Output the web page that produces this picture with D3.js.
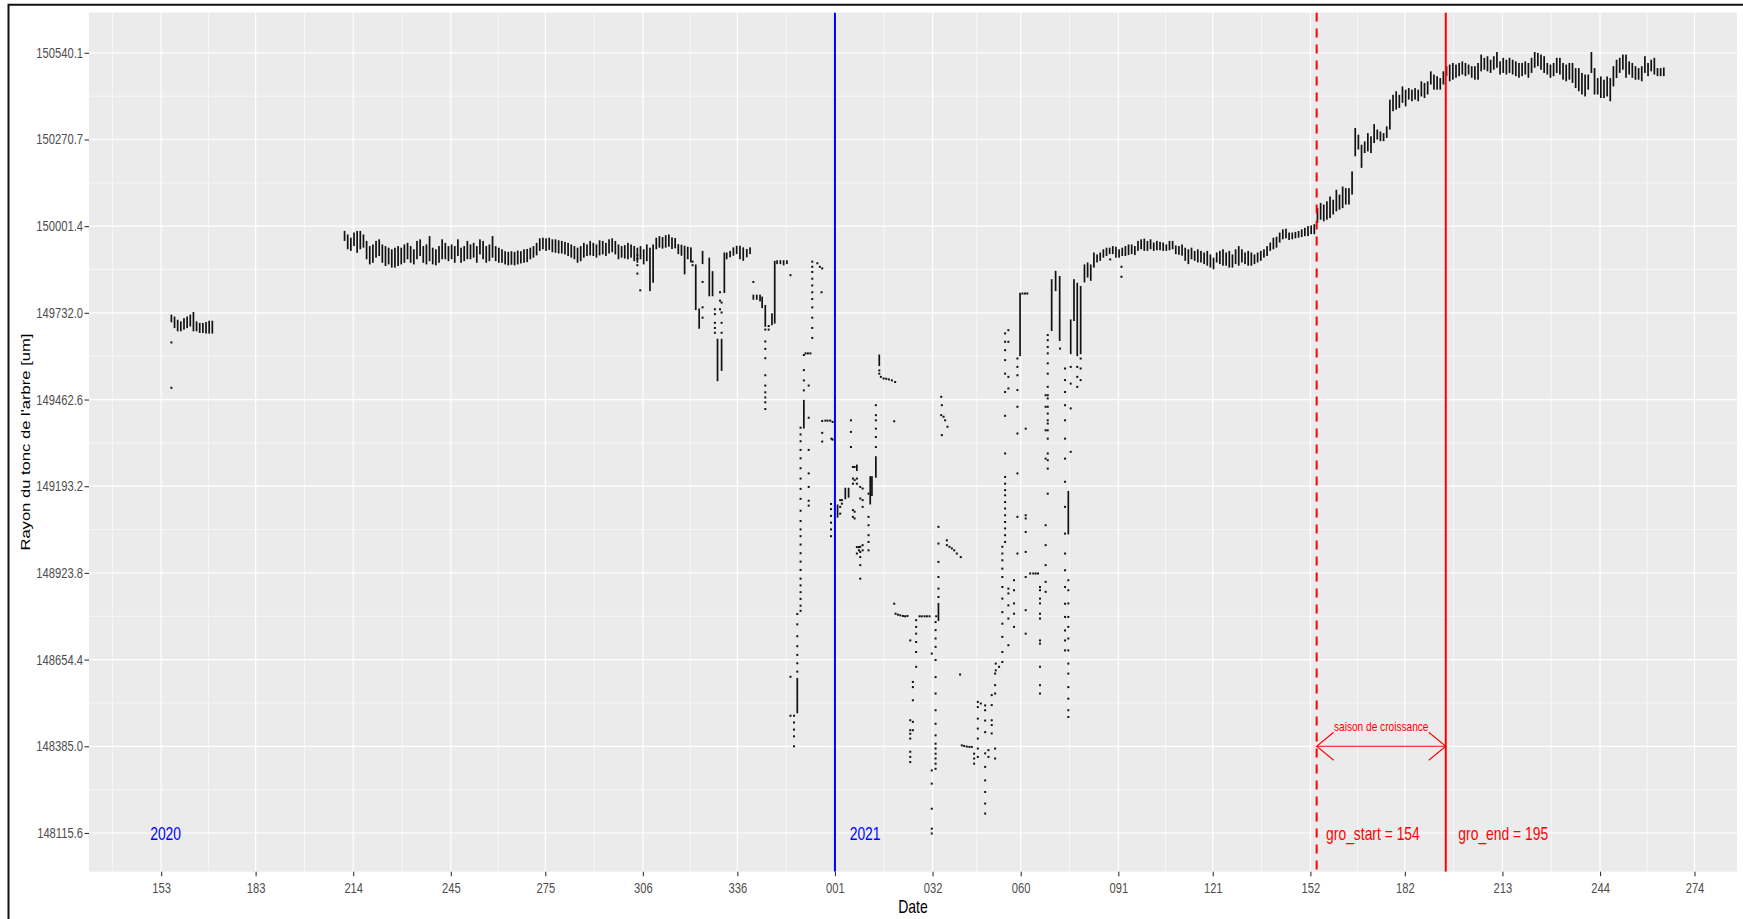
<!DOCTYPE html>
<html>
<head>
<meta charset="utf-8">
<script src="https://cdn.jsdelivr.net/npm/d3@7"></script>
<style>
  html, body { margin: 0; padding: 0; background: #ffffff; }
  svg { display: block; font-family: "Liberation Sans", Arial, Helvetica, sans-serif; }
</style>
</head>
<body>
<svg id="chart" width="1743" height="919"></svg>
<script>
// Trunk radius (µm) from a point dendrometer, summer 2020 to autumn 2021.

// y-axis breaks
const yTickValues = [148115.6, 148385.0, 148654.4, 148923.8, 149193.2, 149462.6, 149732.0, 150001.4, 150270.7, 150540.1];
const yTickLabels = ["148115.6", "148385.0", "148654.4", "148923.8", "149193.2", "149462.6", "149732.0", "150001.4", "150270.7", "150540.1"];

// June 2020: daily minimum / maximum, one value per day from juneStart
const juneStart = "2020-06-04";
const juneLow  = [149705,149687,149677,149677,149682,149687,149692,149677,149677,149672,149672,149670,149670,149670];
const juneHigh = [149724,149718,149708,149703,149713,149718,149724,149732,149703,149698,149698,149701,149705,149705];

// Late summer / autumn 2020: daily minimum / maximum from autumnStart
const autumnStart = "2020-07-29";
const autumnLow = [149958,149932,149927,149942,149921,149932,149937,149901,149885,149890,
  149906,149911,149890,149880,149885,149875,149875,149880,149885,149890,
  149901,149890,149885,149901,149911,149890,149885,149895,149885,149882,
  149890,149901,149901,149895,149901,149890,149911,149890,149895,149901,
  149901,149906,149890,149916,149901,149890,149895,149906,149895,149890,
  149890,149885,149882,149884,149882,149885,149888,149890,149892,149901,
  149906,149913,149927,149932,149927,149930,149923,149921,149919,149919,
  149916,149911,149906,149901,149890,149895,149906,149911,149913,149911,
  149906,149913,149916,149911,149919,149923,149916,149901,149906,149903,
  149901,149906,149895,149890,149901,149885,149895,149802,149828,149932,
  149937,149934,149937,149940,149933,149935,149917,149912,149854,149901,
  149891];
const autumnHigh = [149984,149973,149963,149979,149984,149984,149973,149953,149937,149942,
  149953,149958,149942,149937,149932,149927,149932,149937,149932,149942,
  149947,149937,149927,149953,149958,149937,149942,149968,149932,149927,
  149937,149958,149947,149937,149942,149937,149958,149932,149937,149953,
  149942,149947,149937,149958,149953,149937,149942,149968,149937,149932,
  149927,149921,149919,149921,149919,149923,149921,149927,149928,149932,
  149937,149947,149961,149963,149961,149963,149958,149958,149955,149953,
  149950,149947,149942,149937,149932,149937,149947,149942,149953,149947,
  149942,149955,149953,149947,149958,149961,149953,149942,149937,149940,
  149947,149942,149937,149932,149937,149927,149942,149932,149942,149963,
  149968,149965,149971,149973,149964,149962,149943,149941,149938,149935,
  149933];

// Winter 2020-2021: ranges of readings taken around a given hour [time, min, max]
const winterRanges = [
  ["2020-11-17 19", 149743, 149880], ["2020-11-18 21", 149685, 149743], ["2020-11-19 23", 149886, 149922],
  ["2020-11-22 02", 149786, 149901], ["2020-11-23 03", 149786, 149859], ["2020-11-24 17", 149522, 149649],
  ["2020-11-26 00", 149554, 149649], ["2020-11-26 21", 149796, 149917], ["2020-11-27 15", 149901, 149917],
  ["2020-11-28 17", 149907, 149922], ["2020-11-29 18", 149912, 149933], ["2020-11-30 19", 149917, 149938],
  ["2020-12-01 20", 149901, 149938], ["2020-12-02 21", 149896, 149933], ["2020-12-04 00", 149907, 149928],
  ["2020-12-05 01", 149917, 149933], ["2020-12-06 02", 149775, 149786], ["2020-12-07 04", 149775, 149786],
  ["2020-12-08 05", 149770, 149786], ["2020-12-08 21", 149749, 149780], ["2020-12-09 21", 149691, 149754],
  ["2020-12-12 00", 149696, 149728], ["2020-12-12 21", 149701, 149891], ["2020-12-13 15", 149886, 149893],
  ["2020-12-14 16", 149886, 149893], ["2020-12-15 17", 149882, 149893], ["2020-12-16 18", 149886, 149893],
  ["2020-12-20 01", 148490, 148595], ["2020-12-22 03", 149375, 149459],
  ["2021-01-01 20", 149098, 149134], ["2021-01-04 07", 149155, 149186], ["2021-01-05 08", 149160, 149186],
  ["2021-01-07 23", 149243, 149258], ["2021-01-12 05", 149139, 149222], ["2021-01-12 18", 149165, 149222],
  ["2021-01-14 00", 149222, 149284], ["2021-01-15 02", 149569, 149600], ["2021-02-02 21", 148777, 148828],
  ["2021-02-28 19", 149600, 149792], ["2021-03-10 20", 149678, 149834], ["2021-03-12 02", 149802, 149860],
  ["2021-03-13 09", 149647, 149844], ["2021-03-16 03", 149046, 149176], ["2021-03-16 21", 149606, 149709],
  ["2021-03-17 22", 149709, 149834], ["2021-03-18 23", 149600, 149823], ["2021-03-20 01", 149606, 149813]
];

// Isolated readings: [time, reading, reading, ...]
const scatteredReadings = [
  ["2020-06-04 06", 149640, 149499],
  ["2020-10-30 06", 149911, 149900, 149880, 149854],
  ["2020-10-31 04", 149802],
  ["2020-11-16 19", 149891, 149880],
  ["2020-11-19 23", 149828, 149749, 149717],
  ["2020-11-23 21", 149743, 149728, 149701, 149685, 149670],
  ["2020-11-25 12", 149796, 149770, 149743],
  ["2020-11-26 00", 149764, 149733, 149701, 149670],
  ["2020-12-06 02", 149828],
  ["2020-12-09 21", 149680, 149643, 149620, 149591, 149538, 149506, 149485, 149469, 149454, 149433],
  ["2020-12-10 23", 149691, 149680],
  ["2020-12-17 21", 149849, 148601, 148480],
  ["2020-12-19 00", 148480, 148459, 148437, 148416, 148385],
  ["2020-12-20 01", 148617, 148643, 148669, 148696, 148727, 148764, 148796],
  ["2020-12-21 02", 149375, 149354, 149333, 149306, 149280, 149249, 149217, 149185, 149154, 149117, 149085, 149059,
                    149038, 149012, 148985, 148959, 148933, 148906, 148885, 148864, 148843, 148822, 148806],
  ["2020-12-22 03", 149601, 149554, 149522, 149491],
  ["2020-12-22 16", 149606],
  ["2020-12-23 10", 149606],
  ["2020-12-23 16", 149506, 149406, 149306, 149233, 149191, 149148, 149133],
  ["2020-12-24 05", 149606],
  ["2020-12-24 19", 149891, 149875, 149859, 149838, 149817, 149796, 149775, 149749, 149717, 149685, 149654],
  ["2020-12-26 10", 149886],
  ["2020-12-27 05", 149875],
  ["2020-12-27 18", 149796],
  ["2020-12-27 23", 149870, 149396, 149359, 149332],
  ["2020-12-28 23", 149397],
  ["2020-12-29 16", 149397],
  ["2020-12-30 12", 149397],
  ["2020-12-30 18", 149138, 149122, 149101, 149080, 149059, 149038],
  ["2020-12-30 21", 149341],
  ["2020-12-31 06", 149393, 149338],
  ["2021-01-02 16", 149150, 149129, 149108],
  ["2021-01-03 05", 149150, 149139],
  ["2021-01-06 02", 149398, 149362, 149315],
  ["2021-01-06 17", 149253, 149217, 149201, 149119, 149098],
  ["2021-01-07 06", 149253, 149212, 149114, 149093],
  ["2021-01-07 23", 149217, 149201, 149004, 148984],
  ["2021-01-08 15", 149004, 148994],
  ["2021-01-09 01", 149191, 149155, 149005, 148989, 148973, 148948, 148906],
  ["2021-01-09 19", 149186, 149150, 149129, 149010, 148994],
  ["2021-01-11 16", 149170, 149098, 149072, 149041, 149020, 148994],
  ["2021-01-14 00", 149445, 149414, 149398, 149372, 149346, 149315],
  ["2021-01-15 02", 149553, 149543],
  ["2021-01-15 14", 149533],
  ["2021-01-16 11", 149528],
  ["2021-01-17 07", 149527],
  ["2021-01-18 03", 149525],
  ["2021-01-19 02", 149522],
  ["2021-01-19 20", 149395, 148828],
  ["2021-01-20 03", 149517],
  ["2021-01-20 06", 148797],
  ["2021-01-21 00", 148794],
  ["2021-01-21 18", 148792],
  ["2021-01-22 14", 148790],
  ["2021-01-23 07", 148789],
  ["2021-01-24 01", 148790],
  ["2021-01-24 22", 148714, 148466, 148435, 148424, 148409, 148368, 148352, 148336],
  ["2021-01-25 18", 148585, 148569, 148528, 148461, 148435],
  ["2021-01-26 19", 148777, 148756, 148735, 148709, 148678, 148632],
  ["2021-01-27 21", 148789],
  ["2021-01-28 14", 148789],
  ["2021-01-29 11", 148789],
  ["2021-01-30 05", 148789],
  ["2021-01-31 01", 148789],
  ["2021-01-31 18", 148673, 148310, 148269, 148191, 148129, 148114],
  ["2021-02-01 23", 148771, 148746, 148720, 148694, 148653, 148600, 148549, 148497, 148455, 148419, 148393, 148378,
                    148362, 148347, 148331, 148315],
  ["2021-02-02 04", 148789],
  ["2021-02-02 21", 149067, 149015, 148958, 148911, 148875, 148849],
  ["2021-02-03 18", 149471, 149414],
  ["2021-02-03 23", 149445, 149352],
  ["2021-02-04 12", 149409],
  ["2021-02-05 00", 149398],
  ["2021-02-05 13", 149025, 149010],
  ["2021-02-05 18", 149378],
  ["2021-02-06 09", 149005],
  ["2021-02-07 03", 149000],
  ["2021-02-07 21", 148994],
  ["2021-02-08 17", 148984],
  ["2021-02-09 18", 148608],
  ["2021-02-09 23", 148973],
  ["2021-02-10 07", 148388],
  ["2021-02-11 01", 148386],
  ["2021-02-11 21", 148384],
  ["2021-02-12 17", 148383],
  ["2021-02-13 11", 148383],
  ["2021-02-14 05", 148362, 148347, 148331],
  ["2021-02-15 09", 148523, 148507, 148471, 148440, 148409, 148378, 148352],
  ["2021-02-16 08", 148518],
  ["2021-02-17 17", 148512, 148497, 148465, 148429, 148363, 148321, 148279, 148243, 148207, 148176],
  ["2021-02-18 18", 148373, 148352],
  ["2021-02-19 19", 148544, 148513, 148466, 148451, 148425],
  ["2021-02-20 21", 148611, 148575, 148549, 148378, 148347],
  ["2021-02-21 02", 148642, 148621],
  ["2021-02-22 03", 148632],
  ["2021-02-23 04", 149005, 148984, 148963, 148937, 148911, 148880, 148844, 148802, 148766, 148725, 148678, 148647],
  ["2021-02-24 01", 149668, 149642, 149616, 149585, 149543, 149486, 149412, 149295, 149222, 149201, 149181, 149165,
                    149144, 149124, 149103, 149082, 149062, 149041, 149020],
  ["2021-02-25 02", 149678, 149642, 149533, 149497, 148875, 148860, 148823, 148782, 148699],
  ["2021-02-26 21", 148901, 148870, 148829, 148797, 148756],
  ["2021-02-27 23", 149590, 149564, 149538, 149492, 149440, 149357, 149233, 149098, 148984],
  ["2021-03-01 13", 149792],
  ["2021-03-02 08", 149792],
  ["2021-03-02 14", 149372, 149103, 149093, 149051, 148989, 148911, 148808, 148735],
  ["2021-03-03 02", 149792],
  ["2021-03-04 00", 148922],
  ["2021-03-05 00", 148922],
  ["2021-03-05 18", 148922],
  ["2021-03-06 12", 148922],
  ["2021-03-07 03", 148880, 148870, 148844, 148829, 148797, 148782, 148714, 148704, 148632, 148575, 148549],
  ["2021-03-08 22", 149476, 149440, 149367, 149279, 149072, 149010, 148948, 148896, 148865],
  ["2021-03-09 14", 149663, 149647, 149626, 149606, 149575, 149543, 149502, 149476, 149466, 149440, 149419, 149398,
                    149388, 149367, 149341, 149295, 149274, 149248, 149170],
  ["2021-03-13 12", 149621],
  ["2021-03-15 02", 149559, 149523, 149486, 149445, 149398, 149341, 149279, 149207, 149129, 149046, 148984, 148932,
                    148880, 148828, 148787, 148745, 148714, 148683],
  ["2021-03-16 03", 148901, 148870, 148829, 148787, 148756, 148720, 148683, 148642, 148611, 148569, 148533, 148497, 148476],
  ["2021-03-16 21", 149564, 149512, 149435, 149300],
  ["2021-03-18 23", 149564, 149533, 149502],
  ["2021-03-20 01", 149590, 149559, 149523],
  ["2021-03-29 10", 149898],
  ["2021-04-02 00", 149875, 149844]
];

// Spring 2021: daily minimum / maximum from springStart
const springStart = "2021-03-21";
const springLow = [149829,149844,149834,149875,149891,149896,149906,149911,149917,149917,149906,
  149906,149911,149911,149914,149917,149914,149927,149932,149927,149927,
  149932,149927,149929,149929,149927,149927,149929,149932,149917,149915,
  149912,149896,149886,149901,149896,149891,149891,149886,149881,149875,
  149870,149891,149886,149881,149881,149875,149875,149886,149881,149891,
  149886,149881,149881,149886,149891,149896,149906,149911,149927,149932,
  149937,149953,149963,149966,149961,149963,149966,149968,149970,149973,149973,
  149979,149979];
const springHigh = [149880,149886,149880,149917,149911,149917,149927,149932,149932,149937,149935,
  149927,149932,149937,149942,149942,149937,149953,149958,149960,149953,
  149958,149948,149953,149950,149948,149942,149953,149953,149939,149937,
  149942,149932,149927,149932,149922,149927,149922,149917,149922,149911,
  149901,149917,149922,149927,149917,149922,149911,149927,149937,149927,
  149917,149922,149917,149911,149917,149922,149927,149937,149948,149963,
  149966,149979,149989,149991,149979,149979,149981,149984,149989,149994,149999,
  150001,150005];

// Growing season and late summer 2021: daily minimum / maximum from summerStart
const summerStart = "2021-06-03";
const summerLow = [150014,150024,150019,150024,150029,150040,150050,150055,150060,150071,
  150071,150102,150221,150242,150185,150231,150236,150231,150262,150273,
  150268,150268,150278,150304,150361,150366,150371,150387,
  150376,150397,150392,150397,150392,150407,150402,150413,150444,150428,
  150428,150428,150444,150470,150454,150459,150465,150470,150475,150470,
  150475,150465,150459,150459,150485,150490,150485,150480,150490,150496,150475,
  150480,150475,150480,150475,150470,150465,150470,150475,150465,150480,
  150496,150501,150490,150480,150475,150465,150470,150480,150475,150459,
  150454,150459,150449,150433,150423,150413,150407,150428,150480,150413,150413,
  150402,150402,150407,150392,150438,150464,150480,150490,150465,150475,
  150465,150459,150459,150454,150480,150470,150485,150475,150470,150470,150470];
const summerHigh = [150055,150071,150066,150076,150091,150081,150112,150097,150122,150117,
  150117,150169,150304,150283,150252,150262,150288,150278,150316,150299,
  150293,150288,150309,150392,150407,150418,150407,150433,
  150423,150428,150423,150428,150423,150449,150444,150449,150480,150470,
  150465,150459,150480,150496,150501,150506,150501,150506,150511,150506,
  150501,150496,150496,150506,150532,150522,150527,150516,150527,150540,150511,
  150522,150516,150522,150516,150511,150506,150506,150511,150506,150522,
  150540,150537,150532,150527,150506,150501,150506,150522,150522,150506,
  150501,150506,150506,150490,150490,150475,150470,150470,150540,150490,150459,
  150464,150454,150464,150459,150496,150516,150522,150532,150532,150511,
  150506,150496,150490,150496,150527,150506,150516,150522,150490,150490,150492];

// Markers: start of 2021, start and end of the growing season
const yearStart2021 = "2021-01-01 00";
const groStart = "2021-06-03 00";
const groEnd = "2021-07-14 00";
const groStartDoy = 154;
const groEndDoy = 195;

// ---------------------------------------------------------------------------
const panel = { left: 89, right: 1737, top: 12.5, bottom: 871.7 };
const TEXT_SX = 0.8;      // horizontal squeeze of the lettering
const ANNOT_SX = 0.75;

const parseDay = d3.timeParse("%Y-%m-%d");
const parseHour = d3.timeParse("%Y-%m-%d %H");

const x = d3.scaleTime()
  .domain([parseHour("2020-05-09 02"), parseHour("2021-10-14 12")])
  .range([panel.left, panel.right]);
const y = d3.scaleLinear()
  .domain([147995.3, 150665.3])
  .range([panel.bottom, panel.top]);

function dailySeries(start, lows, highs) {
  const t0 = parseDay(start);
  return lows.map((lo, i) => ({
    t: d3.timeHour.offset(d3.timeDay.offset(t0, i), 6),
    lo: lo,
    hi: highs[i]
  }));
}

const ranges = [].concat(
  dailySeries(juneStart, juneLow, juneHigh),
  dailySeries(autumnStart, autumnLow, autumnHigh),
  winterRanges.map(r => ({ t: parseHour(r[0]), lo: r[1], hi: r[2] })),
  dailySeries(springStart, springLow, springHigh),
  dailySeries(summerStart, summerLow, summerHigh)
);
const points = [];
scatteredReadings.forEach(r => {
  const t = parseHour(r[0]);
  r.slice(1).forEach(v => points.push({ t: t, v: v }));
});

const svg = d3.select("#chart");
svg.append("rect").attr("width", 1743).attr("height", 919).attr("fill", "#ffffff");

// outer frame
svg.append("path")
  .attr("d", "M8.5,919 V4.8 H1743")
  .attr("fill", "none").attr("stroke", "#111").attr("stroke-width", 2);

// panel background
svg.append("rect")
  .attr("x", panel.left).attr("y", panel.top)
  .attr("width", panel.right - panel.left).attr("height", panel.bottom - panel.top)
  .attr("fill", "#EBEBEB");

svg.append("clipPath").attr("id", "panelClip")
  .append("rect")
  .attr("x", panel.left).attr("y", panel.top)
  .attr("width", panel.right - panel.left).attr("height", panel.bottom - panel.top);

const grid = svg.append("g").attr("clip-path", "url(#panelClip)");

// x grid: month starts, with minor lines halfway between
const monthTicks = d3.timeMonth.range(parseDay("2020-06-01"), parseDay("2021-10-02"));
const allMonths = d3.timeMonth.range(parseDay("2020-04-01"), parseDay("2021-12-02"));
const xMinor = [];
for (let i = 0; i < allMonths.length - 1; i++) {
  xMinor.push(new Date((allMonths[i].getTime() + allMonths[i + 1].getTime()) / 2));
}
const [d0, d1] = x.domain();
const xMinorIn = xMinor.filter(d => d > d0 && d < d1);

const yMinor = [];
for (let i = 0; i < yTickValues.length - 1; i++) yMinor.push((yTickValues[i] + yTickValues[i + 1]) / 2);

grid.selectAll("line.xminor").data(xMinorIn).join("line")
  .attr("x1", d => x(d)).attr("x2", d => x(d))
  .attr("y1", panel.top).attr("y2", panel.bottom)
  .attr("stroke", "#ffffff").attr("stroke-width", 0.6);
grid.selectAll("line.yminor").data(yMinor).join("line")
  .attr("x1", panel.left).attr("x2", panel.right)
  .attr("y1", d => y(d)).attr("y2", d => y(d))
  .attr("stroke", "#ffffff").attr("stroke-width", 0.6);
grid.selectAll("line.xmajor").data(monthTicks).join("line")
  .attr("x1", d => x(d)).attr("x2", d => x(d))
  .attr("y1", panel.top).attr("y2", panel.bottom)
  .attr("stroke", "#ffffff").attr("stroke-width", 1.2);
grid.selectAll("line.ymajor").data(yTickValues).join("line")
  .attr("x1", panel.left).attr("x2", panel.right)
  .attr("y1", d => y(d)).attr("y2", d => y(d))
  .attr("stroke", "#ffffff").attr("stroke-width", 1.2);

// readings
const marks = svg.append("g").attr("clip-path", "url(#panelClip)");
marks.selectAll("rect.range").data(ranges).join("rect")
  .attr("class", "range")
  .attr("x", d => x(d.t) - 0.85)
  .attr("width", 1.7)
  .attr("y", d => y(d.hi) - 0.8)
  .attr("height", d => Math.max(y(d.lo) - y(d.hi) + 1.6, 1.8))
  .attr("fill", "#111");
marks.selectAll("rect.pt").data(points).join("rect")
  .attr("class", "pt")
  .attr("x", d => x(d.t) - 1)
  .attr("y", d => y(d.v) - 1)
  .attr("width", 2).attr("height", 2)
  .attr("fill", "#111");

// vertical markers
const tYear = parseHour(yearStart2021), tStart = parseHour(groStart), tEnd = parseHour(groEnd);
marks.append("line")
  .attr("x1", x(tYear)).attr("x2", x(tYear)).attr("y1", panel.top).attr("y2", panel.bottom)
  .attr("stroke", "#0000FF").attr("stroke-width", 2);
marks.append("line")
  .attr("x1", x(tStart)).attr("x2", x(tStart)).attr("y1", panel.top).attr("y2", panel.bottom)
  .attr("stroke", "#FF0000").attr("stroke-width", 2).attr("stroke-dasharray", "9,7");
marks.append("line")
  .attr("x1", x(tEnd)).attr("x2", x(tEnd)).attr("y1", panel.top).attr("y2", panel.bottom)
  .attr("stroke", "#FF0000").attr("stroke-width", 2);

// growing-season arrow
const arrowY = y(148385.0);
const ax0 = x(tStart), ax1 = x(tEnd);
const arrow = svg.append("g").attr("stroke", "#FF0000").attr("stroke-width", 1.1).attr("fill", "none");
arrow.append("line").attr("x1", ax0).attr("x2", ax1).attr("y1", arrowY).attr("y2", arrowY);
arrow.append("path").attr("d", `M${ax0 + 17},${arrowY - 14} L${ax0},${arrowY} L${ax0 + 17},${arrowY + 14}`);
arrow.append("path").attr("d", `M${ax1 - 17},${arrowY - 14} L${ax1},${arrowY} L${ax1 - 17},${arrowY + 14}`);

function squeezedText(parent, str, px, py, opts) {
  return parent.append("text")
    .attr("transform", `translate(${px},${py}) scale(${opts.sx},1)`)
    .attr("text-anchor", opts.anchor || "middle")
    .attr("dominant-baseline", "central")
    .attr("font-size", opts.size)
    .attr("fill", opts.color)
    .text(str);
}

const labels = svg.append("g");
squeezedText(labels, "saison de croissance", (ax0 + ax1) / 2, arrowY - 20, { sx: ANNOT_SX, size: 13.5, color: "#FF0000" });
const yLow = y(148115.6);
squeezedText(labels, "gro_start = " + groStartDoy, x(d3.timeDay.offset(tStart, 3)), yLow, { sx: ANNOT_SX, size: 18.5, color: "#FF0000", anchor: "start" });
squeezedText(labels, "gro_end = " + groEndDoy, x(d3.timeDay.offset(tEnd, 4)), yLow, { sx: ANNOT_SX, size: 18.5, color: "#FF0000", anchor: "start" });
squeezedText(labels, "2020", x(parseHour("2020-06-02 10")), yLow, { sx: ANNOT_SX, size: 18.5, color: "#0000FF" });
squeezedText(labels, "2021", x(parseHour("2021-01-10 14")), yLow, { sx: ANNOT_SX, size: 18.5, color: "#0000FF" });

// axes
const xAxis = d3.axisBottom(x)
  .tickValues(monthTicks)
  .tickFormat(d3.timeFormat("%j"))
  .tickSize(4.5)
  .tickPadding(7);
const gx = svg.append("g").attr("transform", `translate(0,${panel.bottom})`).call(xAxis);
gx.select(".domain").remove();
gx.selectAll(".tick line").attr("stroke", "#333333").attr("stroke-width", 1.1);
gx.selectAll(".tick text")
  .attr("fill", "#4D4D4D").attr("font-size", 14)
  .attr("font-family", "Liberation Sans, Arial, sans-serif")
  .attr("transform", `scale(${TEXT_SX},1)`);

const yAxis = d3.axisLeft(y)
  .tickValues(yTickValues)
  .tickFormat((d, i) => yTickLabels[i])
  .tickSize(4.5)
  .tickPadding(1.5);
const gy = svg.append("g").attr("transform", `translate(${panel.left},0)`).call(yAxis);
gy.select(".domain").remove();
gy.selectAll(".tick line").attr("stroke", "#333333").attr("stroke-width", 1.1);
gy.selectAll(".tick text")
  .attr("fill", "#4D4D4D").attr("font-size", 14)
  .attr("font-family", "Liberation Sans, Arial, sans-serif")
  .each(function () {
    const t = d3.select(this);
    const tx = +t.attr("x");
    t.attr("x", 0).attr("transform", `translate(${tx},0) scale(${TEXT_SX},1)`);
  });

// axis titles
squeezedText(svg, "Date", (panel.left + panel.right) / 2, 906.5, { sx: TEXT_SX, size: 17.5, color: "#000" });
svg.append("text")
  .attr("transform", `translate(25,${(panel.top + panel.bottom) / 2}) scale(${TEXT_SX},1) rotate(-90)`)
  .attr("text-anchor", "middle")
  .attr("dominant-baseline", "central")
  .attr("font-size", 16.6)
  .attr("fill", "#000")
  .text("Rayon du tonc de l'arbre [um]");
</script>
</body>
</html>
